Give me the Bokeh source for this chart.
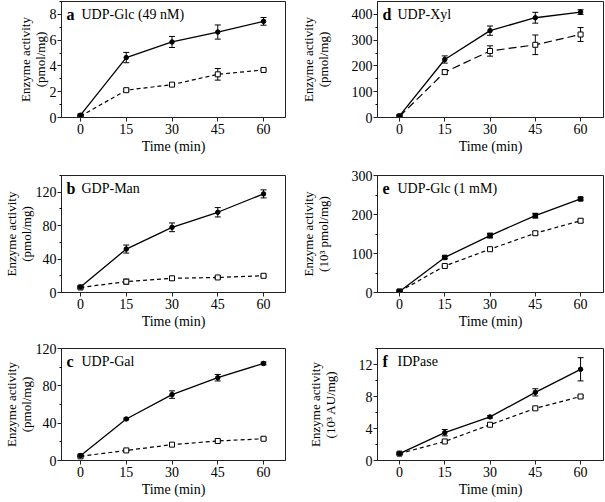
from bokeh.plotting import figure
from bokeh.layouts import gridplot
from bokeh.models import ColumnDataSource, Whisker, TeeHead, FixedTicker, Range1d, Label
from bokeh.embed import file_html
from bokeh.resources import INLINE

# ---------------- data ----------------
TIME = [0, 15, 30, 45, 60]
X_TICKS = [0, 15, 30, 45, 60]

A_SOLID = [0.18, 4.65, 5.86, 6.63, 7.46]
A_SOLID_ERR = [0.08, 0.4, 0.43, 0.55, 0.3]
A_OPEN = [0.1, 2.12, 2.55, 3.35, 3.69]
A_OPEN_ERR = [0.05, 0.1, 0.07, 0.45, 0.08]
A_YTICKS = [0, 2, 4, 6, 8]
A_YMINOR = [1, 3, 5, 7, 9]

B_SOLID = [6.5, 52, 78, 96, 118]
B_SOLID_ERR = [1, 4.8, 5.2, 5.6, 4.8]
B_OPEN = [6, 13, 17, 18, 20]
B_OPEN_ERR = [0.8, 3, 2, 1.2, 1]
B_YTICKS = [0, 40, 80, 120]
B_YMINOR = [20, 60, 100, 140]

C_SOLID = [5.2, 44.5, 70.6, 88.7, 104]
C_SOLID_ERR = [0.8, 1, 4, 3.5, 1.5]
C_OPEN = [4.5, 10.8, 17, 20.9, 23.3]
C_OPEN_ERR = [0.5, 0.8, 1, 1, 1.2]
C_YTICKS = [0, 40, 80, 120]
C_YMINOR = [20, 60, 100]

D_SOLID = [6, 225, 337, 387, 409]
D_SOLID_ERR = [4, 14, 18, 21, 9]
D_OPEN = [4, 176, 258, 282, 322]
D_OPEN_ERR = [3, 9, 20, 38, 27]
D_YTICKS = [0, 100, 200, 300, 400]
D_YMINOR = [50, 150, 250, 350]

E_SOLID = [2.6, 90, 146, 197, 240]
E_SOLID_ERR = [1, 3, 6, 6, 3]
E_OPEN = [2.6, 68, 111, 152, 184]
E_OPEN_ERR = [1, 2, 3, 4, 4]
E_YTICKS = [0, 100, 200, 300]
E_YMINOR = [50, 150, 250]

F_SOLID = [0.86, 3.48, 5.45, 8.52, 11.4]
F_SOLID_ERR = [0.1, 0.4, 0.15, 0.45, 1.45]
F_OPEN = [0.86, 2.38, 4.47, 6.52, 8.0]
F_OPEN_ERR = [0.08, 0.1, 0.1, 0.12, 0.12]
F_YTICKS = [0, 4, 8, 12]
F_YMINOR = [2, 6, 10, 14]

# ---------------- style ----------------
FONT = "Liberation Serif"
# per column: x-range start/end, frame width, borders, y-label standoff
COL1 = dict(x0=-6.23, x1=67.2, fw=224, left=60, right=12, ystand=-1)
COL2 = dict(x0=-7.29, x1=67.6, fw=226, left=80, right=1, ystand=18)


def panel(col, letter, title, ylabel, ymax, yticks, yminor, solid, solid_err, opn, opn_err,
          dash, solid_marker, fh, top, bottom):
    x0, x1, fw = col["x0"], col["x1"], col["fw"]
    p = figure(frame_width=fw, frame_height=fh, x_range=Range1d(x0, x1),
               y_range=Range1d(0, ymax), output_backend="svg", toolbar_location=None,
               min_border_left=col["left"], min_border_right=col["right"],
               min_border_top=top, min_border_bottom=bottom)
    p.xgrid.visible = False
    p.ygrid.visible = False
    p.outline_line_color = "#222222"
    p.outline_line_width = 1
    p.background_fill_color = "white"
    p.border_fill_color = "white"

    p.xaxis.ticker = FixedTicker(ticks=X_TICKS)
    p.yaxis.ticker = FixedTicker(ticks=yticks, minor_ticks=yminor)
    for ax in (p.xaxis[0], p.yaxis[0]):
        ax.axis_line_color = "#222222"
        ax.major_tick_line_color = "#222222"
        ax.major_tick_out = 4
        ax.major_tick_in = 0
        ax.minor_tick_out = 2
        ax.minor_tick_in = 0
        ax.major_label_text_font = FONT
        ax.major_label_text_font_size = "14px"
        ax.major_label_text_color = "black"
        ax.axis_label_text_font = FONT
        ax.axis_label_text_font_style = "normal"
        ax.axis_label_text_color = "black"
        ax.axis_label_text_line_height = 1.0
    p.xaxis.axis_label_text_font_size = "14px"
    p.yaxis.axis_label_text_font_size = "13px"
    p.xaxis.minor_tick_line_color = None
    p.xaxis.major_label_standoff = 2
    p.xaxis.axis_label_standoff = 2
    p.yaxis.major_label_standoff = 1
    p.yaxis.axis_label_standoff = col["ystand"]
    p.xaxis.axis_label = "Time (min)"
    p.yaxis.axis_label = ylabel

    src_s = ColumnDataSource(dict(x=TIME, y=solid,
                                  lo=[v - e for v, e in zip(solid, solid_err)],
                                  hi=[v + e for v, e in zip(solid, solid_err)]))
    src_o = ColumnDataSource(dict(x=TIME, y=opn,
                                  lo=[v - e for v, e in zip(opn, opn_err)],
                                  hi=[v + e for v, e in zip(opn, opn_err)]))

    p.line("x", "y", source=src_o, line_color="black", line_width=1.2, line_dash=dash)
    p.line("x", "y", source=src_s, line_color="black", line_width=1.3)
    for src in (src_o, src_s):
        p.add_layout(Whisker(base="x", lower="lo", upper="hi", source=src,
                             line_color="black", line_width=1,
                             lower_head=TeeHead(size=6, line_color="black", line_width=1),
                             upper_head=TeeHead(size=6, line_color="black", line_width=1)))
    p.scatter("x", "y", source=src_o, marker="square", size=5, fill_color="white",
              line_color="black", line_width=1)
    p.scatter("x", "y", source=src_s, marker=solid_marker, size=4.5, fill_color="black",
              line_color="black")

    ppx = fw / (x1 - x0)
    ypos = ymax - 13 * ymax / fh
    p.add_layout(Label(x=x0 + 5 / ppx, y=ypos, text=letter, text_font=FONT,
                       text_font_size="16px", text_font_style="bold",
                       text_baseline="middle", text_color="black"))
    p.add_layout(Label(x=x0 + 20 / ppx, y=ypos, text=title, text_font=FONT,
                       text_font_size="14px", text_baseline="middle", text_color="black"))
    return p


pa = panel(COL1, "a", "UDP-Glc (49 nM)", "Enzyme activity\n(pmol/mg)", 9, A_YTICKS, A_YMINOR,
           A_SOLID, A_SOLID_ERR, A_OPEN, A_OPEN_ERR, "4 3", "circle", 116, 1, 50)
pd = panel(COL2, "d", "UDP-Xyl", "Enzyme activity\n(pmol/mg)", 450, D_YTICKS, D_YMINOR,
           D_SOLID, D_SOLID_ERR, D_OPEN, D_OPEN_ERR, "8 4", "circle", 116, 1, 50)
pb = panel(COL1, "b", "GDP-Man", "Enzyme activity\n(pmol/mg)", 140, B_YTICKS, B_YMINOR,
           B_SOLID, B_SOLID_ERR, B_OPEN, B_OPEN_ERR, "4 3", "circle", 117, 8, 48)
pe = panel(COL2, "e", "UDP-Glc (1 mM)", "Enzyme activity\n(10\u00b3 pmol/mg)", 300, E_YTICKS,
           E_YMINOR, E_SOLID, E_SOLID_ERR, E_OPEN, E_OPEN_ERR, "4 3", "square", 117, 8, 48)
pc = panel(COL1, "c", "UDP-Gal", "Enzyme activity\n(pmol/mg)", 120, C_YTICKS, C_YMINOR,
           C_SOLID, C_SOLID_ERR, C_OPEN, C_OPEN_ERR, "4 3", "circle", 112, 8, 38)
pf = panel(COL2, "f", "IDPase", "Enzyme activity\n(10\u00b3 AU/mg)", 14, F_YTICKS, F_YMINOR,
           F_SOLID, F_SOLID_ERR, F_OPEN, F_OPEN_ERR, "4 3", "circle", 112, 8, 38)

grid = gridplot([[pa, pd], [pb, pe], [pc, pf]], toolbar_location=None)

open("out.html", "w").write(file_html(grid, INLINE))
